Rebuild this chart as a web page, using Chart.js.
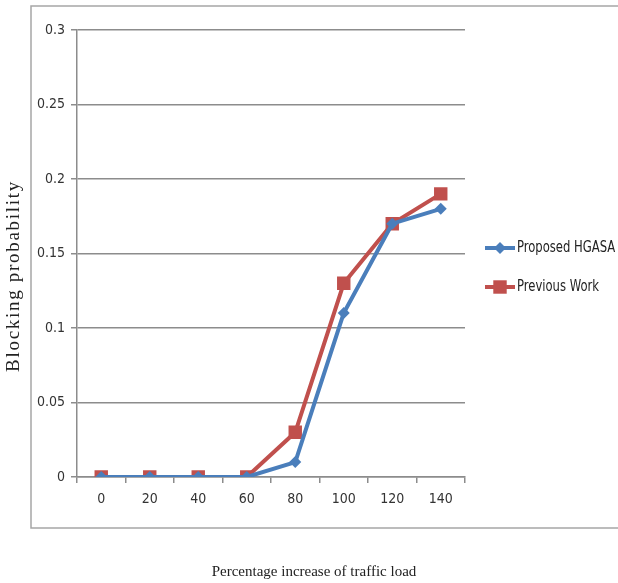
<!DOCTYPE html>
<html>
<head>
<meta charset="utf-8">
<script src="https://cdn.jsdelivr.net/npm/chart.js@4/dist/chart.umd.min.js"></script>
<style>
  html, body { margin: 0; padding: 0; background: #fff; }
  #wrap { width: 618px; height: 583px; }
</style>
</head>
<body>
<div id="wrap"><canvas id="chart"></canvas></div>
<script>
const loads = ['0', '20', '40', '60', '80', '100', '120', '140'];
const hgasa = [0, 0, 0, 0, 0.01, 0.11, 0.17, 0.18];
const previous = [0, 0, 0, 0, 0.03, 0.13, 0.17, 0.19];
const xTitle = 'Percentage increase of traffic load';
const yTitle = 'Blocking probability';

const narrow = "'DejaVu Sans Condensed', 'Liberation Sans Narrow', sans-serif";
const tickFont = { family: narrow, size: 14 };
const gridColor = '#8c8c8c';

// outer frame, axis titles and legend, placed like the Excel chart box
const frame = {
  id: 'frame',
  beforeDraw(chart) {
    const ctx = chart.ctx;
    ctx.save();
    ctx.strokeStyle = '#a6a6a6';
    ctx.lineWidth = 1.5;
    ctx.strokeRect(31, 6, 620, 522);
    ctx.restore();
  },
  afterDraw(chart) {
    const ctx = chart.ctx;
    ctx.save();
    ctx.fillStyle = '#222';
    ctx.textAlign = 'center';
    ctx.textBaseline = 'middle';
    ctx.font = "15px 'Liberation Serif', serif";
    ctx.fillText(xTitle, 314, 572);
    ctx.translate(14, 276);
    ctx.rotate(-Math.PI / 2);
    ctx.font = "19px 'Liberation Serif', serif";
    ctx.letterSpacing = '1.7px';
    ctx.fillText(yTitle, 0, 0);
    ctx.restore();

    ctx.save();
    chart.data.datasets.forEach((ds, i) => {
      const y = 248 + i * 39;
      const x0 = 485, x1 = 515, cx = (x0 + x1) / 2;
      ctx.strokeStyle = ds.borderColor;
      ctx.lineWidth = 4;
      ctx.beginPath();
      ctx.moveTo(x0, y);
      ctx.lineTo(x1, y);
      ctx.stroke();
      ctx.fillStyle = ds.borderColor;
      ctx.beginPath();
      const r = ds.pointRadius;
      if (ds.pointStyle === 'rect') {
        const s = r * Math.SQRT1_2;
        ctx.rect(cx - s, y - s, 2 * s, 2 * s);
      } else {
        ctx.moveTo(cx, y - r); ctx.lineTo(cx + r, y); ctx.lineTo(cx, y + r); ctx.lineTo(cx - r, y);
        ctx.closePath();
      }
      ctx.fill();
      ctx.save();
      ctx.translate(x1 + 2, y);
      ctx.scale(0.86, 1);
      ctx.fillStyle = '#222';
      ctx.font = '15px ' + narrow;
      ctx.textBaseline = 'middle';
      ctx.fillText(ds.label, 0, 0);
      ctx.restore();
    });
    ctx.restore();
  }
};

new Chart(document.getElementById('chart'), {
  type: 'line',
  data: {
    labels: loads,
    datasets: [{
      label: 'Proposed HGASA',
      data: hgasa,
      borderColor: '#4a7ebb',
      backgroundColor: '#4a7ebb',
      borderWidth: 4,
      pointStyle: 'rectRot',
      pointRadius: 6,
      pointBorderWidth: 0,
      tension: 0
    }, {
      label: 'Previous Work',
      data: previous,
      borderColor: '#c0504d',
      backgroundColor: '#c0504d',
      borderWidth: 4,
      pointStyle: 'rect',
      pointRadius: 9.5,
      pointBorderWidth: 0,
      tension: 0
    }]
  },
  options: {
    responsive: true,
    maintainAspectRatio: false,
    animation: false,
    layout: { padding: { top: 30, right: 153, left: 0, bottom: 0 } },
    plugins: {
      legend: { display: false },
      tooltip: { enabled: false }
    },
    scales: {
      x: {
        offset: true,
        grid: { offset: true, drawOnChartArea: false, drawTicks: true, tickLength: 6, color: gridColor, lineWidth: 1.5 },
        border: { color: gridColor, width: 1.5 },
        ticks: { font: tickFont, color: '#333', maxRotation: 0, padding: 8 },
        afterFit: (s) => { s.height = 106; }
      },
      y: {
        min: 0,
        max: 0.3,
        ticks: {
          stepSize: 0.05, font: tickFont, color: '#333', padding: 6,
          callback: (v) => String(+v.toFixed(2))
        },
        grid: { color: gridColor, lineWidth: 1.5, tickLength: 6 },
        border: { color: gridColor, width: 1.5 },
        afterFit: (s) => { s.width = 77; }
      }
    }
  },
  plugins: [frame]
});
</script>
</body>
</html>
